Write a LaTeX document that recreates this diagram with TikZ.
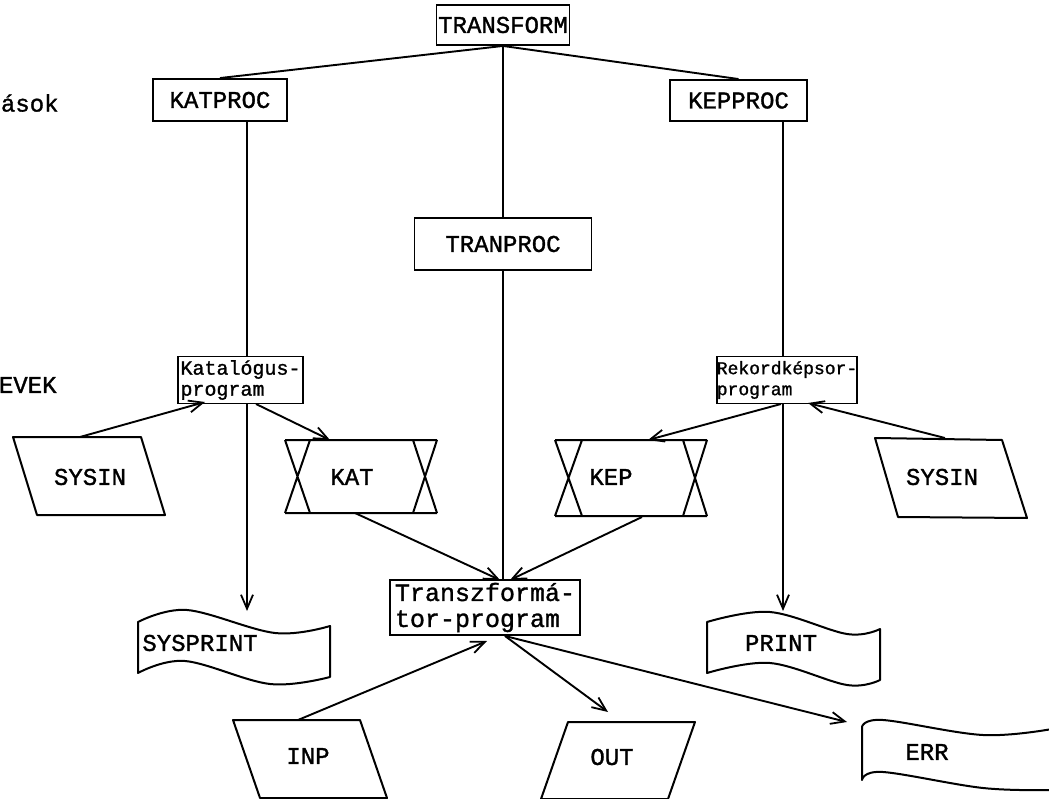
\documentclass[tikz,border=0pt]{standalone}
\usepackage{fontspec}
\newfontfamily\tw[FakeBold=1.3]{Liberation Mono}
\usetikzlibrary{arrows.meta}
\tikzset{
  box/.style={draw, rectangle, inner sep=0pt, font=\tw\fontsize{24}{26}\selectfont},
  lbl/.style={inner sep=0pt, font=\tw\fontsize{24}{26}\selectfont},
  arr/.style={-{Straight Barb[length=14pt,width=12pt,line width=1.8pt]}},
  shp/.style={line width=2pt, line join=round},
}
\begin{document}
\begin{tikzpicture}[x=1pt,y=-1pt,line width=1.9pt]
\useasboundingbox (0,0) rectangle (1049,799);
\fill[white] (0,0) rectangle (1049,799);

% side labels
\node[lbl, anchor=west] (lab1) at (0,103) {ások};
\node[lbl, anchor=west] (lab2) at (-2,385) {EVEK};

% boxes
\node[box, minimum width=133, minimum height=40] (transform) at (503,25) {TRANSFORM};
\node[box, minimum width=134, minimum height=42] (katproc) at (220,100) {KATPROC};
\node[box, minimum width=137, minimum height=41] (kepproc) at (738.5,100.5) {KEPPROC};
\node[box, minimum width=177, minimum height=52] (tranproc) at (503,244) {TRANPROC};
\node[box, minimum width=125, minimum height=47, align=left,
      font=\tw\fontsize{20}{21}\selectfont] (katalogus) at (240.5,380) {Katalógus-\\program};
\node[box, minimum width=140, minimum height=47, align=left,
      font=\tw\fontsize{18}{21}\selectfont] (rekord) at (787,380) {Rekordképsor-\\program};
\node[box, minimum width=190, minimum height=55, align=left,
      font=\tw\fontsize{25}{26}\selectfont] (transz) at (485,607.5) {Transzformá-\\tor-program};

% parallelograms
\draw[shp] (13,437) -- (141,437) -- (165,515) -- (37,515) -- cycle;
\node[lbl] (sysinl) at (90,477) {SYSIN};
\draw[shp] (875,438) -- (1002,440) -- (1027,518) -- (898,517) -- cycle;
\node[lbl] (sysinr) at (942,477) {SYSIN};
\draw[shp] (233,720) -- (360,720) -- (387,798) -- (260,798) -- cycle;
\node[lbl] (inp) at (308,756) {INP};
\draw[shp] (568,722) -- (695,722) -- (668,799) -- (541,799) -- cycle;
\node[lbl] (out) at (612,757) {OUT};

% KAT / KEP files
\draw[shp] (285,440) -- (437,440) (285,513) -- (437,513)
  (285,440) -- (310,513) (310,440) -- (285,513)
  (413,440) -- (437,513) (437,440) -- (413,513);
\node[lbl] (kat) at (352,477) {KAT};
\draw[shp] (555,440) -- (707,440) (555,516) -- (707,516)
  (555,440) -- (582,516) (582,440) -- (555,516)
  (683,440) -- (707,516) (707,440) -- (683,516);
\node[lbl] (kep) at (611,477) {KEP};

% tapes
\draw[shp] plot[smooth,tension=0.6] coordinates {(138,622) (187,610) (275,633) (330,626)}
  -- plot[smooth,tension=0.6] coordinates {(330,677) (270,684) (185,661) (138,673)} -- cycle;
\node[lbl] (sysprint) at (200,643) {SYSPRINT};
\draw[shp] plot[smooth,tension=0.6] coordinates {(707,622) (770,612) (847,634) (880,629)}
  -- plot[smooth,tension=0.6] coordinates {(880,680) (847,685) (770,663) (707,673)} -- cycle;
\node[lbl] (print) at (781,643) {PRINT};
\draw[shp] plot[smooth,tension=0.6] coordinates {(1052,729) (983,735) (883,720) (862,727)}
  -- plot[smooth,tension=0.6] coordinates {(862,780) (883,772) (983,788) (1052,790)};
\node[lbl] (err) at (927,752) {ERR};

% attachment coordinates
\coordinate (kl) at (247,0);
\coordinate (kr) at (783,0);
\coordinate (sysinlT) at (80,437);
\coordinate (sysinrT) at (945,438);
\coordinate (katT) at (330,440);
\coordinate (katB) at (355,513);
\coordinate (kepT) at (648,440);
\coordinate (kepB) at (642,517);
\coordinate (inpT) at (298,720);
\coordinate (outT) at (608,712);
\coordinate (errL) at (847,722);
\coordinate (sysprintT) at (247,611);
\coordinate (printT) at (783,611);
\coordinate (tzTa) at (500,580);
\coordinate (tzTb) at (510,580);
\coordinate (tzB) at (505,636);
\coordinate (tzBi) at (487,641);
\coordinate (katalBL) at (205,402);
\coordinate (katalBR) at (256,404);
\coordinate (rekBL) at (781,404);
\coordinate (rekBR) at (808,403);

% connectors
\draw (transform.south) -- (katproc.north);
\draw (transform.south) -- (kepproc.north);
\draw (transform.south) -- (tranproc.north);
\draw (tranproc.south) -- (tranproc.south |- transz.north);
\draw (kl |- katproc.south) -- (kl |- katalogus.north);
\draw (kr |- kepproc.south) -- (kr |- rekord.north);
\draw[arr] (kl |- katalogus.south) -- (sysprintT);
\draw[arr] (kr |- rekord.south) -- (printT);
\draw[arr] (sysinlT) -- (katalBL);
\draw[arr] (katalBR) -- (katT);
\draw[arr] (rekBL) -- (kepT);
\draw[arr] (sysinrT) -- (rekBR);
\draw[arr] (katB) -- (tzTa);
\draw[arr] (kepB) -- (tzTb);
\draw[arr] (inpT) -- (tzBi);
\draw[arr] (tzB) -- (outT);
\draw[arr] (tzB) -- (errL);
\end{tikzpicture}
\end{document}
